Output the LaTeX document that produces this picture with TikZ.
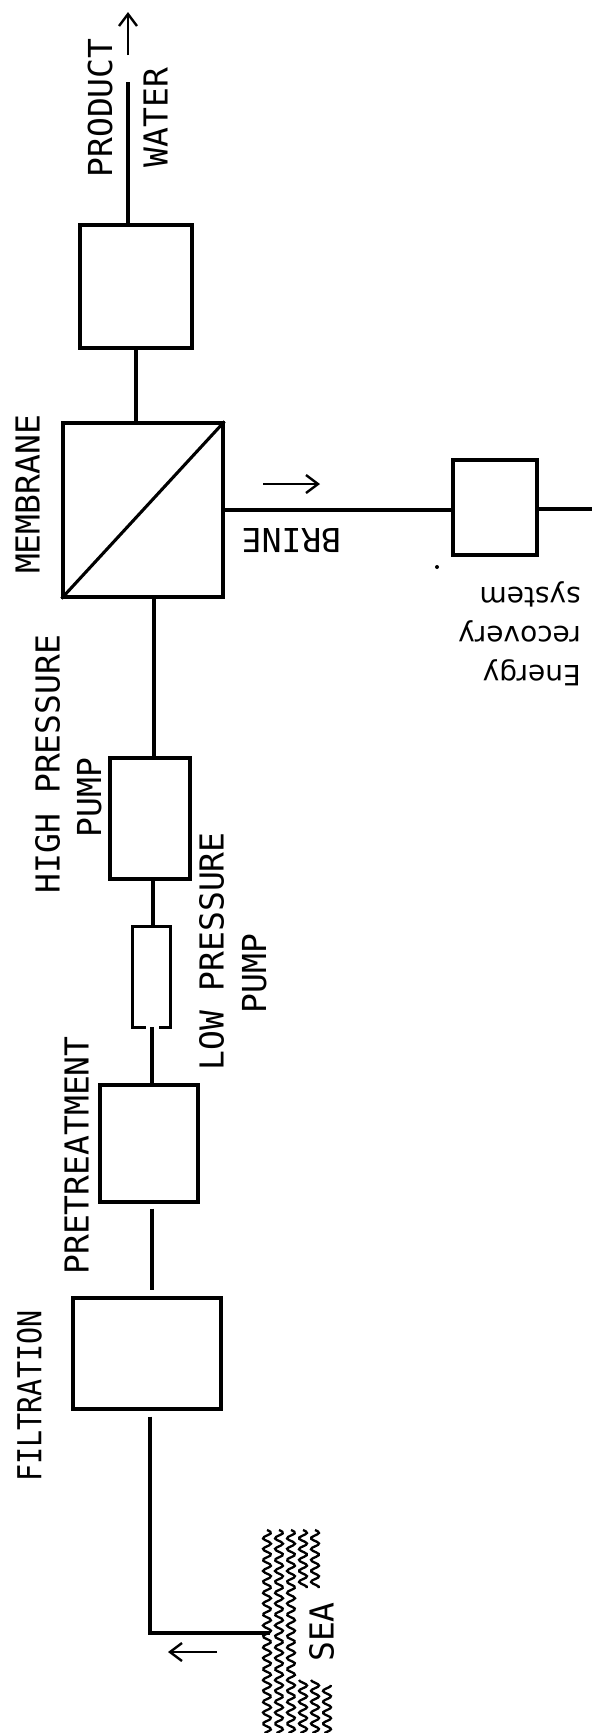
\documentclass[tikz,border=0pt]{standalone}
\usepackage{fontspec}
\usetikzlibrary{arrows.meta}
\newfontfamily\labfamily{DejaVu Sans Mono}
\newfontfamily\erfamily{DejaVu Sans}
\newcommand{\labfont}{\labfamily\fontsize{33}{40}\selectfont}
\newcommand{\erfont}{\erfamily\fontsize{28}{40}\selectfont}
\tikzset{
  blk/.style={draw, line width=3.1pt, inner sep=0pt},
  pipe/.style={line width=3.1pt},
  flow/.style={line width=2.4pt, -{Straight Barb[length=12pt,width=18pt,line width=2.4pt]}},
  lab/.style={font=\labfont, inner sep=0pt, text height=24pt, text depth=0pt, rotate=90},
  labud/.style={font=\labfont, inner sep=0pt, text height=26pt, text depth=0pt, rotate=180},
  ert/.style={font=\erfont, inner sep=0pt, rotate=180, anchor=base west},
  wave/.style={line width=2.3pt}
}
\begin{document}
\begin{tikzpicture}[x=1pt,y=-1pt]
\useasboundingbox (0,0) rectangle (597,1733);
% boxes
\node[blk, minimum width=112pt, minimum height=123pt] (prod) at (136,286.5) {};
\node[blk, minimum width=160pt, minimum height=174pt] (mem) at (143,510) {};
\node[blk, minimum width=84pt, minimum height=95pt] (erbox) at (495,507.5) {};
\node[blk, minimum width=80pt, minimum height=121pt] (hp) at (150,818.5) {};
\node[inner sep=0pt, minimum width=37pt, minimum height=100pt] (lp) at (151.5,977) {};
\node[blk, minimum width=98pt, minimum height=117pt] (pre) at (149,1143.5) {};
\node[blk, minimum width=148pt, minimum height=111pt] (fil) at (147,1353.5) {};
% low pressure pump outline with gap at bottom
\draw[pipe] ([xshift=-6pt]lp.south) -- (lp.south west) -- (lp.north west) -- (lp.north east) -- (lp.south east) -- ([xshift=7pt]lp.south);
% membrane diagonal
\draw[pipe] (mem.south west) -- (mem.north east);
% coordinates
\coordinate (pw1) at (128,82);
\coordinate (pa1) at (128,55);
\coordinate (pa2) at (128,12);
\coordinate (erend) at (592,509);
\coordinate (ba1) at (263,484);
\coordinate (ba2) at (320,484);
\coordinate (seacorner) at (150,1633);
\coordinate (seaend) at (270,1633);
\coordinate (sa1) at (217,1652);
\coordinate (sa2) at (168,1652);
% connectors
\draw[pipe] ([xshift=-8pt]prod.north) -- (pw1);
\draw[flow] (pa1) -- (pa2);
\draw[pipe] (prod.south) -- (prod.south |- mem.north);
\draw[pipe] ([xshift=11pt]mem.south) -- ([xshift=11pt]mem.south |- hp.north);
\draw[pipe] (mem.east) -- (mem.east -| erbox.west);
\draw[pipe] (erbox.east |- erend) -- (erend);
\draw[flow] (ba1) -- (ba2);
\draw[pipe] ([xshift=3pt]hp.south) -- ([xshift=3pt]hp.south |- lp.north);
\draw[pipe] ([xshift=3pt]pre.north |- lp.south) -- ([xshift=3pt]pre.north);
\draw[pipe] ([xshift=3pt,yshift=-5pt]pre.south) coordinate (pf) -- ([yshift=6pt]fil.north -| pf);
\draw[pipe] ([xshift=3pt,yshift=-6pt]fil.south) -- (seacorner) -- (seaend);
\draw[flow] (sa1) -- (sa2);
% speck
\fill (437,567) circle (2pt);
% labels
\node[lab] (tprod) at (100,108) {PRODUCT};
\node[lab] (twater) at (155.5,117.5) {WATER};
\node[lab] (tmem) at (27.5,494.5) {MEMBRANE};
\node[lab] (thp) at (47.5,764) {HIGH PRESSURE};
\node[lab] (thpp) at (89,797.5) {PUMP};
\node[lab] (tlp) at (211.5,951.5) {LOW PRESSURE};
\node[lab] (tlpp) at (254,973.5) {PUMP};
\node[lab] (tpre) at (76.5,1155.5) {PRETREATMENT};
\node[lab] (tfil) at (29.5,1396) {\scalebox{0.86}[1]{FILTRATION}};
\node[labud] (tbrine) at (291.5,541.5) {BRINE};
\node[lab] (tsea) at (321.5,1632) {SEA};
\node[ert] (er1) at (581,665) {Energy};
\node[ert] (er2) at (581,626) {recovery};
\node[ert] (er3) at (581,587) {system};
% sea waves
\foreach \cx in {267,279,291}{
  \draw[wave] plot[domain=0:203, samples=120, smooth] ({\cx+4*sin(\x*33)},{1530+\x});
}
\foreach \cx in {303,315}{
  \draw[wave] plot[domain=0:58, samples=40, smooth] ({\cx+4*sin(\x*33)},{1530+\x});
  \draw[wave] plot[domain=150:203, samples=40, smooth] ({\cx+4*sin(\x*33)},{1530+\x});
}
\draw[wave] plot[domain=155:203, samples=40, smooth] ({327+4*sin(\x*33)},{1530+\x});
\end{tikzpicture}
\end{document}
